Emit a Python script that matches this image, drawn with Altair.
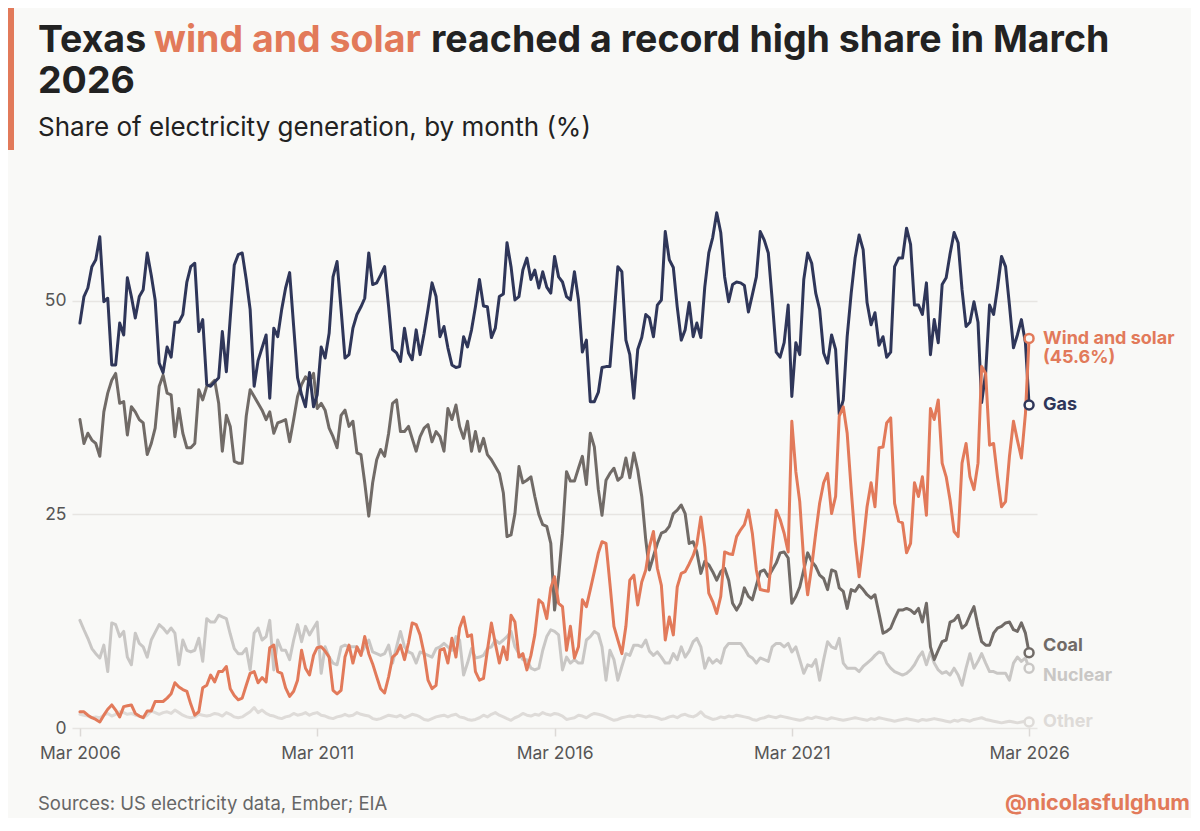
import altair as alt
import pandas as pd

# ---------------- data (monthly shares, %, Mar 2006 .. Mar 2026) ----------------
gas = [
    47.4, 50.5, 51.5, 54.0, 54.8, 57.5, 49.9, 50.3, 42.5, 42.5, 47.4, 46.0,
    52.7, 50.5, 48.0, 50.5, 51.3, 55.6, 53.0, 50.1, 42.7, 41.6, 44.6, 43.4,
    47.5, 47.5, 48.4, 52.2, 54.0, 54.4, 46.4, 47.8, 40.2, 40.0, 40.5, 41.0,
    46.4, 41.7, 48.0, 54.2, 55.4, 55.6, 52.5, 49.0, 40.0, 43.0, 44.5, 46.0,
    38.6, 46.8, 45.8, 49.0, 51.5, 53.3, 47.0, 41.0, 39.0, 37.6, 41.6, 37.6,
    39.0, 44.6, 43.3, 46.2, 52.8, 54.6, 49.0, 43.3, 43.7, 46.8, 48.4, 49.3,
    50.3, 55.6, 51.9, 52.1, 53.0, 54.0, 49.3, 44.3, 43.9, 42.9, 46.8, 43.9,
    43.1, 46.6, 43.7, 46.2, 49.0, 52.1, 50.5, 45.8, 47.0, 44.5, 42.5, 42.2,
    42.3, 45.8, 44.6, 46.6, 49.3, 52.5, 49.4, 49.3, 45.7, 46.8, 50.5, 50.8,
    56.8, 54.0, 50.1, 50.5, 53.6, 55.0, 52.5, 53.6, 51.5, 53.4, 51.6, 50.9,
    55.2, 52.8, 52.2, 50.5, 50.1, 53.4, 50.1, 44.0, 45.4, 38.2, 38.2, 39.3,
    42.2, 42.3, 42.3, 48.1, 54.0, 53.4, 45.4, 43.7, 38.6, 44.3, 45.7, 48.4,
    48.0, 45.8, 49.5, 50.1, 58.1, 54.8, 53.9, 49.3, 45.4, 46.6, 49.8, 45.8,
    47.4, 45.7, 51.6, 55.6, 57.4, 60.3, 58.0, 52.8, 49.9, 51.9, 52.2, 52.1,
    51.8, 48.7, 50.7, 52.8, 58.1, 57.1, 55.6, 50.1, 44.0, 43.4, 45.1, 49.5,
    38.8, 45.1, 43.7, 52.5, 55.6, 54.4, 50.9, 49.0, 43.9, 42.7, 46.0, 44.3,
    36.7, 38.4, 45.8, 50.9, 55.0, 57.7, 56.0, 49.8, 47.2, 48.6, 44.8, 45.8,
    43.4, 44.0, 54.0, 55.0, 55.0, 58.5, 56.6, 49.5, 49.5, 48.4, 52.1, 43.7,
    47.8, 45.1, 51.9, 52.7, 55.5, 58.0, 56.8, 51.3, 47.0, 47.5, 49.9, 47.5,
    38.1, 41.6, 49.5, 48.4, 51.5, 55.2, 54.0, 49.5, 44.5, 46.0, 47.8, 45.1,
    37.8,
]

wind_solar = [
    1.9, 1.9, 1.5, 1.2, 1.0, 0.7, 1.5, 2.2, 2.7, 2.1, 1.3, 2.5,
    2.6, 2.7, 1.7, 1.4, 1.2, 2.0, 2.0, 3.1, 3.1, 3.1, 3.5, 4.0,
    5.3, 4.8, 4.5, 4.3, 2.8, 1.5, 1.9, 4.7, 5.0, 6.2, 5.4, 6.6,
    6.6, 7.2, 4.6, 3.8, 3.3, 3.5, 5.0, 6.4, 6.6, 5.3, 5.9, 5.4,
    9.4, 9.7, 6.6, 6.4, 4.7, 3.7, 4.3, 5.6, 9.1, 7.0, 6.2, 8.5,
    9.4, 9.5, 9.0, 8.3, 4.4, 4.0, 4.4, 8.3, 9.7, 7.6, 9.5, 8.5,
    10.7, 8.7, 7.5, 6.0, 4.6, 4.1, 6.0, 8.3, 8.7, 9.7, 8.0, 10.0,
    12.3, 12.1, 10.9, 8.7, 5.6, 4.6, 5.0, 9.1, 9.3, 7.6, 10.5, 8.3,
    11.7, 13.0, 10.7, 10.9, 6.6, 5.6, 5.8, 9.1, 12.3, 9.9, 7.6, 9.5,
    8.0, 13.2, 12.4, 8.3, 8.7, 6.8, 8.5, 10.9, 15.0, 14.6, 12.8, 16.4,
    17.7, 14.6, 14.2, 9.1, 11.9, 8.2, 9.5, 15.0, 14.2, 16.2, 18.3, 20.5,
    21.8, 21.6, 16.9, 11.9, 10.3, 8.7, 11.9, 17.3, 17.9, 14.4, 17.1, 18.5,
    21.2, 23.0, 18.7, 16.7, 10.3, 13.0, 10.9, 16.5, 18.1, 18.3, 19.2, 20.2,
    21.5, 24.7, 21.2, 15.8, 14.8, 13.4, 15.4, 20.6, 20.4, 20.3, 22.4, 23.2,
    23.8, 25.5, 22.8, 18.5, 16.2, 16.1, 16.0, 20.8, 25.5, 24.4, 22.8, 20.6,
    35.9, 30.0, 26.5, 19.5, 15.6, 18.9, 22.8, 26.3, 28.7, 29.8, 25.1, 27.1,
    36.5, 37.6, 34.5, 27.9, 22.0, 17.7, 21.6, 25.9, 28.7, 25.9, 32.8, 32.9,
    35.7, 36.3, 26.3, 24.2, 24.0, 20.5, 21.6, 28.7, 27.1, 29.4, 24.9, 37.4,
    36.1, 38.4, 31.0, 29.4, 26.7, 23.0, 22.4, 31.0, 33.3, 29.4, 27.9, 31.0,
    42.3, 41.5, 33.1, 33.3, 29.4, 25.9, 26.5, 31.8, 35.9, 33.7, 31.6, 36.8,
    45.6,
]

coal = [
    36.1, 33.3, 34.5, 33.7, 33.3, 31.8, 37.0, 39.2, 40.7, 41.5, 38.0, 38.2,
    34.3, 37.6, 37.0, 36.1, 35.7, 32.0, 33.3, 35.1, 40.0, 41.3, 39.2, 39.0,
    34.1, 37.4, 34.5, 32.8, 32.8, 33.3, 39.6, 38.4, 40.0, 40.2, 40.7, 38.0,
    32.4, 36.6, 35.3, 31.2, 31.0, 31.0, 36.5, 39.6, 38.8, 38.0, 37.2, 36.1,
    37.0, 34.5, 35.7, 35.9, 36.1, 33.5, 36.1, 38.8, 40.2, 41.1, 40.6, 41.5,
    37.4, 38.0, 37.2, 35.1, 34.1, 32.8, 36.6, 37.2, 35.3, 35.9, 32.2, 32.0,
    28.7, 24.8, 28.7, 31.4, 32.6, 31.8, 34.5, 38.0, 38.4, 34.7, 34.7, 35.3,
    33.9, 32.4, 34.1, 35.1, 35.5, 33.5, 34.7, 34.1, 32.4, 37.4, 36.1, 37.8,
    35.3, 33.9, 35.9, 32.4, 34.7, 32.4, 33.9, 32.0, 31.4, 30.6, 29.8, 27.5,
    22.4, 22.6, 25.1, 30.6, 28.7, 29.0, 29.4, 27.1, 25.0, 23.8, 23.6, 21.6,
    13.8, 17.7, 22.8, 30.0, 28.9, 28.9, 30.4, 31.8, 28.5, 34.5, 32.9, 27.9,
    24.9, 29.0, 29.8, 30.4, 29.0, 29.4, 31.6, 29.3, 32.2, 30.2, 27.1, 22.0,
    18.5, 20.1, 21.6, 22.8, 23.0, 23.6, 25.1, 25.5, 26.1, 25.1, 21.6, 21.8,
    20.6, 18.1, 19.5, 19.1, 18.3, 17.3, 18.3, 18.7, 17.3, 14.6, 13.8, 14.6,
    16.4, 15.4, 15.0, 16.7, 18.3, 18.5, 17.7, 18.5, 19.3, 20.5, 20.6, 19.9,
    14.6, 15.4, 16.5, 18.5, 20.5, 19.5, 18.9, 17.9, 17.5, 16.2, 18.5, 18.3,
    16.4, 16.0, 14.0, 16.2, 16.0, 16.7, 16.2, 15.6, 15.2, 15.6, 13.4, 11.1,
    11.3, 11.7, 12.8, 13.8, 13.8, 14.0, 13.8, 13.4, 14.0, 12.4, 14.6, 9.5,
    8.0, 9.1, 10.1, 10.3, 12.4, 12.6, 13.2, 11.7, 12.1, 13.2, 14.2, 11.9,
    10.1, 9.7, 9.7, 11.1, 11.7, 11.9, 12.3, 12.4, 11.5, 11.3, 12.3, 11.1,
    8.8,
]

nuclear = [
    12.6, 11.5, 10.5, 9.3, 8.7, 8.2, 9.7, 6.6, 12.3, 12.1, 10.7, 11.3,
    8.3, 7.4, 11.1, 9.9, 9.5, 8.3, 10.3, 11.2, 12.1, 11.7, 11.1, 11.7,
    11.1, 7.4, 10.3, 9.1, 8.9, 9.1, 10.5, 7.8, 12.8, 12.4, 12.4, 13.2,
    13.0, 12.8, 11.0, 9.3, 8.7, 8.7, 9.3, 6.8, 11.1, 11.7, 10.3, 10.7,
    12.6, 6.8, 10.3, 9.1, 9.1, 8.0, 10.3, 12.1, 10.1, 11.9, 10.9, 11.7,
    12.4, 6.4, 9.5, 8.3, 7.6, 7.4, 9.5, 9.7, 9.5, 9.5, 9.5, 8.7,
    9.5, 10.3, 8.9, 8.7, 8.5, 8.7, 9.7, 7.6, 9.5, 11.3, 9.5, 8.9,
    8.7, 7.6, 8.9, 8.7, 8.5, 8.3, 9.3, 9.5, 9.9, 9.5, 9.1, 10.7,
    10.3, 6.2, 7.6, 9.3, 8.2, 8.3, 8.5, 9.3, 9.5, 10.3, 9.9, 10.3,
    10.7, 11.3, 9.5, 8.7, 8.0, 8.0, 7.0, 6.8, 7.0, 9.1, 10.7, 11.5,
    11.3, 10.9, 6.8, 8.3, 7.6, 8.0, 7.6, 7.6, 10.3, 10.7, 11.3, 11.0,
    9.5, 5.6, 9.1, 8.0, 5.6, 7.2, 8.7, 8.5, 9.7, 9.7, 9.5, 10.3,
    9.0, 8.5, 8.9, 8.3, 7.6, 7.6, 8.7, 8.0, 9.5, 8.3, 9.0, 10.1,
    10.5, 9.5, 7.0, 8.2, 7.6, 8.0, 7.6, 9.3, 9.9, 9.9, 9.9, 9.9,
    9.3, 8.5, 8.2, 7.6, 8.2, 8.0, 7.8, 9.5, 9.9, 9.9, 9.5, 9.9,
    8.9, 9.5, 8.0, 6.4, 7.4, 7.2, 8.0, 5.6, 8.0, 10.1, 9.5, 9.3,
    10.5, 7.6, 7.0, 7.0, 7.0, 6.6, 7.2, 7.6, 8.0, 8.5, 8.9, 8.7,
    7.6, 7.0, 6.6, 6.4, 6.2, 6.4, 6.8, 7.4, 8.3, 8.9, 7.4, 8.9,
    7.6, 6.8, 6.4, 6.6, 6.2, 7.0, 6.2, 5.0, 7.0, 8.7, 7.0, 7.8,
    8.7, 7.6, 6.6, 6.6, 6.4, 6.4, 6.4, 5.6, 7.6, 8.3, 7.8, 8.2,
    7.0,
]

other = [
    1.6, 1.5, 1.4, 1.2, 1.3, 1.2, 1.5, 1.7, 1.4, 1.6, 1.9, 1.8,
    1.6, 1.7, 1.5, 1.4, 1.2, 1.5, 2.0, 1.8, 1.6, 1.8, 1.9, 1.7,
    2.1, 1.8, 1.5, 1.3, 1.2, 1.3, 1.6, 1.5, 1.4, 1.5, 1.7, 1.6,
    1.4, 1.8, 1.6, 1.3, 1.2, 1.3, 1.6, 1.9, 2.4, 1.8, 2.1, 1.7,
    1.5, 1.4, 1.2, 1.1, 1.3, 1.4, 1.7, 1.5, 1.6, 1.8, 1.5, 1.7,
    1.8, 1.5, 1.4, 1.2, 1.1, 1.3, 1.4, 1.6, 1.4, 1.5, 1.8, 1.6,
    1.5, 1.4, 1.1, 1.0, 1.1, 1.3, 1.5, 1.4, 1.3, 1.5, 1.2, 1.4,
    1.6, 1.5, 1.3, 1.0, 0.9, 1.1, 1.3, 1.4, 1.5, 1.3, 1.5, 1.6,
    1.3, 1.2, 1.0, 0.9, 1.0, 1.2, 1.5, 1.3, 1.6, 1.8, 1.5, 1.3,
    1.1, 0.9, 1.2, 1.4, 1.7, 1.5, 1.4, 1.6, 1.5, 1.8, 1.6, 1.5,
    1.7, 1.6, 1.4, 1.0, 1.1, 1.2, 1.5, 1.4, 1.2, 1.5, 1.7, 1.6,
    1.5, 1.3, 1.1, 0.9, 1.0, 1.2, 1.3, 1.4, 1.3, 1.5, 1.4, 1.3,
    1.4, 1.3, 1.2, 1.0, 1.1, 1.3, 1.4, 1.2, 1.5, 1.6, 1.4, 1.3,
    1.5, 1.9, 1.4, 1.2, 1.0, 1.1, 1.3, 1.2, 1.4, 1.3, 1.5, 1.4,
    1.3, 1.2, 1.0, 0.9, 1.1, 1.2, 1.4, 1.3, 1.2, 1.4, 1.3, 1.2,
    1.1, 1.0, 0.9, 1.0, 1.2, 1.1, 1.3, 1.2, 1.1, 1.0, 1.2, 1.1,
    1.0, 0.9, 1.0, 1.1, 1.2, 1.1, 1.0, 0.9, 1.1, 1.0, 1.2, 1.1,
    1.0, 0.9, 0.8, 0.9, 1.0, 1.1, 1.0, 0.9, 0.8, 1.0, 0.9, 1.0,
    1.1, 1.0, 0.9, 0.8, 0.7, 0.9, 0.8, 1.0, 0.9, 0.8, 1.0, 1.1,
    1.2, 1.0, 0.9, 0.8, 0.7, 0.6, 0.7, 0.8, 0.7, 0.6, 0.7, 0.8,
    0.7,
]

series_order = ["Other", "Nuclear", "Coal", "Gas", "Wind and solar"]
series_values = {
    "Gas": gas,
    "Wind and solar": wind_solar,
    "Coal": coal,
    "Nuclear": nuclear,
    "Other": other,
}
x_tick_years = [2006, 2011, 2016, 2021, 2026]
y_ticks = [0, 25, 50]

# ---------------- style ----------------
BG = "#f9f9f7"
ORANGE = "#e27a5a"
colors = {
    "Gas": "#2f3659",
    "Wind and solar": ORANGE,
    "Coal": "#716b67",
    "Nuclear": "#c9c7c5",
    "Other": "#dedbd8",
}
label_dy = {"Wind and solar": 1, "Gas": 0, "Coal": -7, "Nuclear": 8, "Other": 0}
label_text = {
    "Wind and solar": ["Wind and solar", "(45.6%)"],
    "Gas": "Gas",
    "Coal": "Coal",
    "Nuclear": "Nuclear",
    "Other": "Other",
}
FONT = "Inter"

months = pd.date_range("2006-03-01", periods=241, freq="MS")
rows = []
for name in series_order:
    vals = series_values[name]
    assert len(vals) == len(months), (name, len(vals))
    for d, v in zip(months, vals):
        rows.append({"series": name, "date": d, "value": v})
df = pd.DataFrame(rows)
ends = df[df["date"] == months[-1]].reset_index(drop=True)

W, H = 965, 528
x_scale = alt.Scale(
    domain=[alt.DateTime(year=2005, month=12, date=30), alt.DateTime(year=2026, month=5, date=1)]
)
y_scale = alt.Scale(domain=[0, 61.8], nice=False, zero=True)

x_enc = alt.X(
    "date:T",
    scale=x_scale,
    axis=alt.Axis(
        values=[alt.DateTime(year=yr, month=3, date=1) for yr in x_tick_years],
        format="%b %Y",
        title=None,
        grid=False,
        domain=False,
        ticks=True,
        tickSize=8,
        tickColor="#dcd9d6",
        tickWidth=1.5,
        labelFont=FONT,
        labelFontSize=17.5,
        labelColor="#555555",
        labelPadding=8,
        labelFlush=False,
    ),
)
y_enc = alt.Y(
    "value:Q",
    scale=y_scale,
    axis=alt.Axis(
        values=y_ticks,
        title=None,
        grid=True,
        gridColor="#e7e5e2",
        gridWidth=1.5,
        domain=False,
        ticks=False,
        labelFont=FONT,
        labelFontSize=17.5,
        labelColor="#555555",
        labelPadding=6,
    ),
)

layers = []
base = alt.Chart(df)
for i, name in enumerate(series_order):
    enc_x = x_enc if i == 0 else alt.X("date:T", scale=x_scale)
    enc_y = y_enc if i == 0 else alt.Y("value:Q", scale=y_scale)
    layers.append(
        base.transform_filter(alt.datum.series == name)
        .mark_line(strokeWidth=3, color=colors[name], strokeJoin="round", strokeCap="round")
        .encode(x=enc_x, y=enc_y)
    )

endbase = alt.Chart(ends)
for name in series_order:
    layers.append(
        endbase.transform_filter(alt.datum.series == name)
        .mark_point(shape="circle", size=80, strokeWidth=2.5, fill=BG, fillOpacity=1,
                    stroke=colors[name], opacity=1)
        .encode(x=alt.X("date:T", scale=x_scale), y=alt.Y("value:Q", scale=y_scale))
    )
    layers.append(
        endbase.transform_filter(alt.datum.series == name)
        .mark_text(text=label_text[name], align="left", baseline="middle", dx=14,
                   dy=label_dy[name], font=FONT, fontSize=18, fontWeight="bold",
                   color=colors[name], lineHeight=19)
        .encode(x=alt.X("date:T", scale=x_scale), y=alt.Y("value:Q", scale=y_scale))
    )

one = pd.DataFrame({"k": [0]})


def txt(text, x, y, size, color, weight="normal", align="left"):
    return alt.Chart(one).mark_text(
        text=text, align=align, baseline="alphabetic", font=FONT, fontSize=size,
        fontWeight=weight, color=color
    ).encode(x=alt.value(x), y=alt.value(y))


# accent bar
layers.append(
    alt.Chart(one).mark_rect(color=ORANGE).encode(
        x=alt.value(-64), x2=alt.value(-58), y=alt.value(-192), y2=alt.value(-50)
    )
)
layers.append(txt("Texas", -34, -148, 37.5, "#222222", "bold"))
layers.append(txt("wind and solar", 82, -148, 37.5, ORANGE, "bold"))
layers.append(txt("reached a record high share in March", 359, -148, 37.5, "#222222", "bold"))
layers.append(txt("2026", -34, -107, 37.5, "#222222", "bold"))
layers.append(txt("Share of electricity generation, by month (%)", -34, -64, 26, "#222222"))
layers.append(txt("Sources: US electricity data, Ember; EIA", -34, 610, 18.5, "#666666"))
layers.append(txt("@nicolasfulghum", 1118, 610, 21.5, ORANGE, "bold", align="right"))

chart = (
    alt.layer(*layers)
    .properties(
        width=W,
        height=H,
        padding={"left": 64, "top": 192, "right": 154, "bottom": 90},
        autosize=alt.AutoSizeParams(type="none"),
        background=BG,
    )
    .configure_view(stroke=None)
)

chart.save("out.html", embed_options={"renderer": "svg", "actions": False})
